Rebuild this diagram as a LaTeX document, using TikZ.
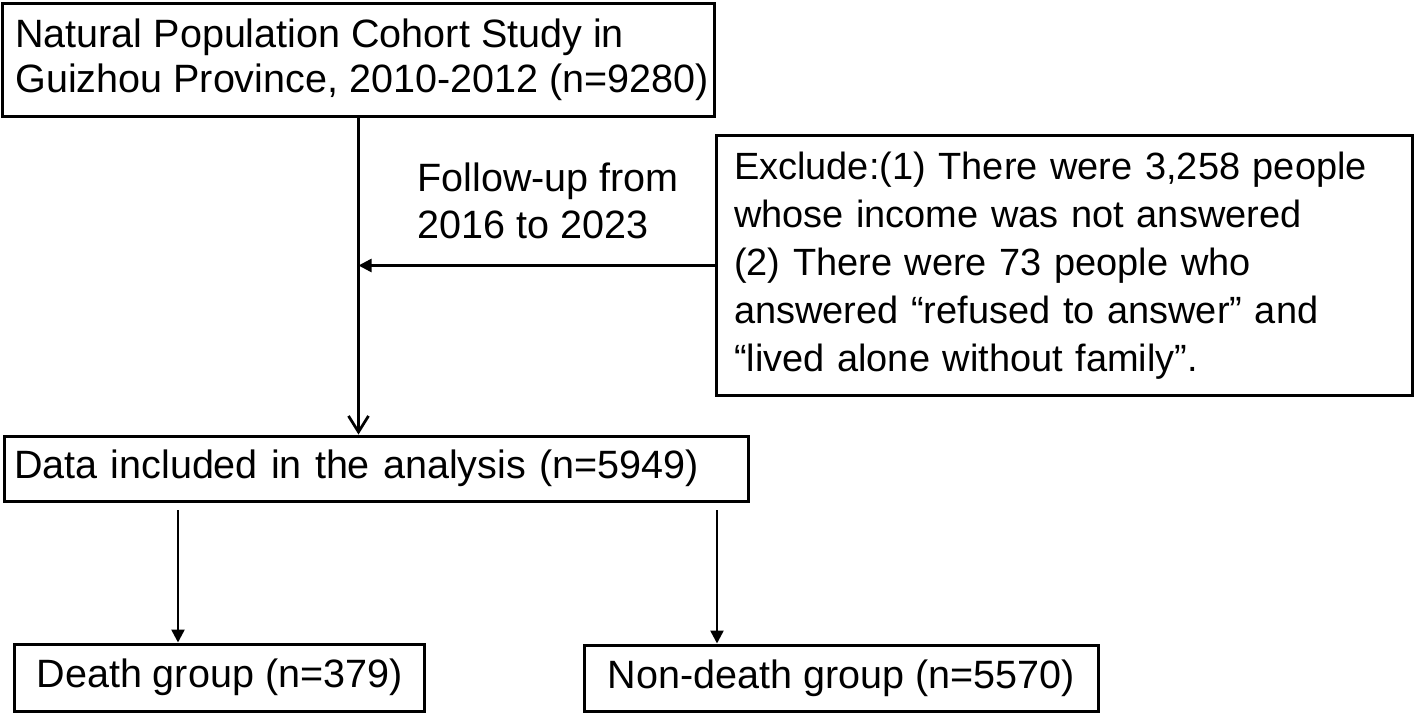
\documentclass[tikz,border=0pt]{standalone}
\usepackage{fontspec}
\setmainfont{Liberation Sans}
\usetikzlibrary{arrows.meta, positioning}

\begin{document}
\begin{tikzpicture}[
  x=0.02cm, y=-0.02cm,
  box/.style={draw, line width=0.06cm, inner ysep=0pt, align=left, font=\fontsize{22.5pt}{25.5pt}\selectfont},
  lbl/.style={inner sep=0pt, align=left, font=\fontsize{22.5pt}{26.7pt}\selectfont},
  arr/.style={-{Triangle[length=0.26cm, width=0.26cm]}, line width=0.05cm},
  barb/.style={-{Straight Barb[length=0.32cm, width=0.4cm]}, line width=0.055cm}
]
\useasboundingbox (0,0) rectangle (1417,714);

\node[box, minimum width=14.22cm, minimum height=2.28cm] (cohort) at (358.5,60) {\hspace*{0.14cm}Natural Population Cohort Study in\\\hspace*{0.14cm}Guizhou Province, 2010-2012 (n=9280)};
\node[box, minimum height=5.22cm, text width=13.22cm, inner xsep=0.36cm, font=\fontsize{21.6pt}{27.3pt}\selectfont] (exclude) at (1064.5,265.5) {Exclude:(1) There were 3,258 people\\whose income was not answered\\(2) There were 73 people who\\answered “refused to answer” and\\“lived alone without family”.};
\node[lbl, anchor=west] (follow) at (417,201) {Follow-up from\\2016 to 2023};
\node[box, minimum height=1.3cm, text width=14.5cm, inner xsep=0.2cm] (data) at (376.5,468.5) {Data included in the analysis (n=5949)};
\node[box, minimum width=8.22cm, minimum height=1.34cm, align=center] (death) at (219.5,677.5) {Death group (n=379)};
\node[box, minimum width=10.3cm, minimum height=1.32cm, align=center] (alive) at (841.5,678) {Non-death group (n=5570)};

% split points under the analysis box
\coordinate (dsplit) at (178,510);
\coordinate (asplit) at (717,510);

\draw[barb] (cohort.south) -- (cohort.south |- data.north);
\draw[arr] (exclude.west) -- (exclude.west -| cohort.south);
\draw[arr] (dsplit) -- (dsplit |- death.north);
\draw[arr] (asplit) -- (asplit |- alive.north);
\end{tikzpicture}
\end{document}
